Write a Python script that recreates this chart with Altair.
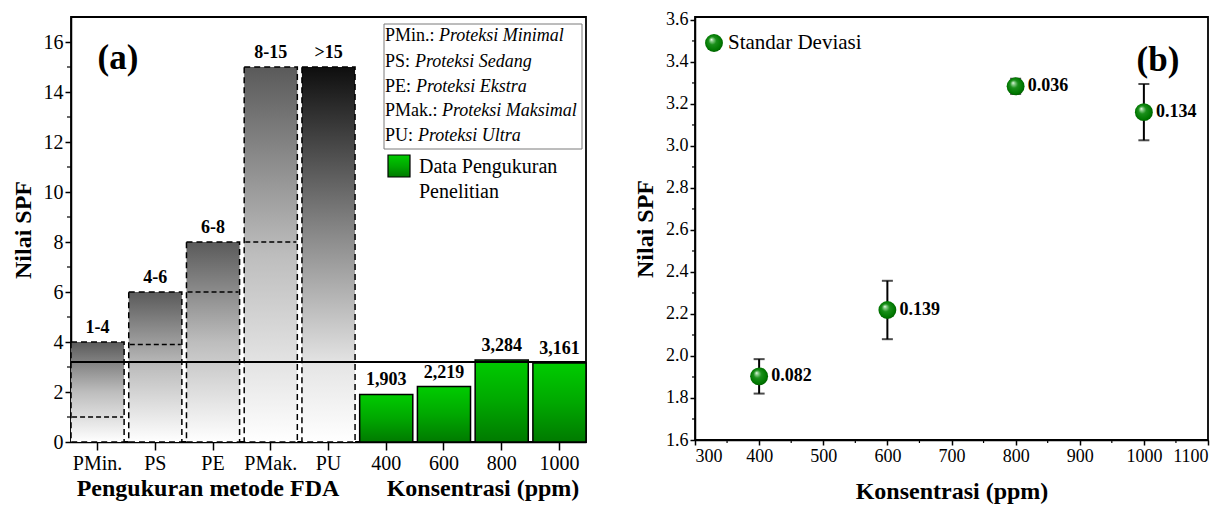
import altair as alt
import pandas as pd

FONT = "Liberation Serif"

# ---------------- data ----------------
fda_cats = ["PMin.", "PS", "PE", "PMak.", "PU"]
fda_upper = [4, 6, 8, 15, 15]
fda_lower = [1, 3.9, 6, 8]
fda_range_labels = ["1-4", "4-6", "6-8", "8-15", ">15"]
conc_cats = ["400", "600", "800", "1000"]
conc_values = [400, 600, 800, 1000]
spf_values = [1.903, 2.219, 3.284, 3.161]
spf_labels = ["1,903", "2,219", "3,284", "3,161"]
spf_sd = [0.082, 0.139, 0.036, 0.134]
sd_labels = ["0.082", "0.139", "0.036", "0.134"]
threshold = [3.2]
legend_abbr = ["PMin.:", "PS:", "PE:", "PMak.:", "PU:"]
legend_desc = ["Proteksi Minimal", "Proteksi Sedang", "Proteksi Ekstra",
               "Proteksi Maksimal", "Proteksi Ultra"]
legend_green = ["Data Pengukuran", "Penelitian"]
y_ticks_a = list(range(0, 17, 2))
y_minor_a = list(range(1, 17, 2))
x_ticks_b = [300, 400, 500, 600, 700, 800, 900, 1000, 1100]
x_minor_b = [350, 450, 550, 650, 750, 850, 950, 1050]
y_ticks_b = [1.6, 1.8, 2.0, 2.2, 2.4, 2.6, 2.8, 3.0, 3.2, 3.4, 3.6]
y_minor_b = [1.7, 1.9, 2.1, 2.3, 2.5, 2.7, 2.9, 3.1, 3.3, 3.5]
y_domain_b = [1.6, 3.614]

# ---------------- layout (pixels) ----------------
WA, HA = 515, 425
WB, HB = 513, 423
legend_rows_y = [19, 45, 70, 94, 119]
legend_abbr_x = 314
legend_desc_x = [368, 344, 345, 371, 347]

all_cats = fda_cats + conc_cats
one = alt.Data(values=[{}])

df_gray = pd.DataFrame({"cat": fda_cats[:4], "v": fda_upper[:4]})
df_pu = pd.DataFrame({"cat": fda_cats[4:], "v": fda_upper[4:]})
df_low = pd.DataFrame({"cat": fda_cats[:4], "v": fda_lower})
df_fda_lab = pd.DataFrame({"cat": fda_cats, "v": fda_upper, "lab": fda_range_labels})
df_green = pd.DataFrame({"cat": conc_cats, "v": spf_values, "lab": spf_labels})
df_thr = pd.DataFrame({"v": threshold})
df_minor_a = pd.DataFrame({"v": y_minor_a})

grad_gray = alt.LinearGradient(
    gradient="linear",
    stops=[alt.GradientStop(color="#5a5a5a", offset=0),
           alt.GradientStop(color="#bdbdbd", offset=0.5),
           alt.GradientStop(color="#ffffff", offset=1)],
    x1=0, x2=0, y1=0, y2=1)
grad_pu = alt.LinearGradient(
    gradient="linear",
    stops=[alt.GradientStop(color="#0e0e0e", offset=0),
           alt.GradientStop(color="#8a8a8a", offset=0.45),
           alt.GradientStop(color="#e6e6e6", offset=0.8),
           alt.GradientStop(color="#ffffff", offset=1)],
    x1=0, x2=0, y1=0, y2=1)
grad_green = alt.LinearGradient(
    gradient="linear",
    stops=[alt.GradientStop(color="#00cc00", offset=0),
           alt.GradientStop(color="#00a800", offset=0.5),
           alt.GradientStop(color="#007a00", offset=1)],
    x1=0, x2=0, y1=0, y2=1)

xa = alt.X("cat:N", sort=all_cats,
           scale=alt.Scale(domain=all_cats, paddingInner=0.08, paddingOuter=0.0),
           axis=alt.Axis(title=None, labelAngle=0, labelFontSize=20, tickSize=8,
                         labelPadding=3))
ya = alt.Y("v:Q", scale=alt.Scale(domain=[0, 17], nice=False),
           axis=alt.Axis(values=y_ticks_a, title="Nilai SPF", titleFontSize=24,
                         titleFontWeight="bold", titlePadding=8, labelFontSize=20,
                         tickSize=6, labelPadding=2, format="d"))
xs = alt.X("cat:N", sort=all_cats)
ys = alt.Y("v:Q")

gray_bars = alt.Chart(df_gray).mark_bar(
    color=grad_gray, stroke="black", strokeDash=[6, 4], strokeWidth=1.5
).encode(x=xa, y=ya)
pu_bar = alt.Chart(df_pu).mark_bar(
    color=grad_pu, stroke="black", strokeDash=[6, 4], strokeWidth=1.5
).encode(x=xs, y=ys)
green_bars = alt.Chart(df_green).mark_bar(
    color=grad_green, stroke="black", strokeWidth=1.5
).encode(x=xs, y=ys)
low_lines = alt.Chart(df_low).mark_rule(
    color="black", strokeDash=[5, 3], strokeWidth=1.6
).encode(x=alt.X("cat:N", sort=all_cats, bandPosition=0.02),
         x2=alt.X2("cat", bandPosition=0.98), y=ys)
thr_rule = alt.Chart(df_thr).mark_rule(color="black", strokeWidth=1.8).encode(y=ys)
fda_labels = alt.Chart(df_fda_lab).mark_text(
    fontWeight="bold", fontSize=18, baseline="bottom", dy=-5, font=FONT
).encode(x=xs, y=ys, text="lab:N")
green_labels = alt.Chart(df_green).mark_text(
    fontWeight="bold", fontSize=18, baseline="bottom", dy=-5, font=FONT
).encode(x=xs, y=ys, text="lab:N")
minor_a = alt.Chart(df_minor_a).mark_rule(color="black", strokeWidth=1.2).encode(
    y=ys, x=alt.value(-4), x2=alt.value(0))

leg_box = alt.Chart(one).mark_rect(fill="white", stroke="#7a7a7a", strokeWidth=1).encode(
    x=alt.value(313), x2=alt.value(511), y=alt.value(7), y2=alt.value(132))
leg_layers = [leg_box]
for i in range(len(legend_abbr)):
    leg_layers.append(alt.Chart(one).mark_text(
        align="left", baseline="middle", fontSize=18, font=FONT
    ).encode(x=alt.value(legend_abbr_x), y=alt.value(legend_rows_y[i]),
             text=alt.value(legend_abbr[i])))
    leg_layers.append(alt.Chart(one).mark_text(
        align="left", baseline="middle", fontSize=18, font=FONT, fontStyle="italic"
    ).encode(x=alt.value(legend_desc_x[i]), y=alt.value(legend_rows_y[i]),
             text=alt.value(legend_desc[i])))
leg_layers.append(alt.Chart(one).mark_rect(color=grad_green, stroke="black", strokeWidth=1.2).encode(
    x=alt.value(317), x2=alt.value(339), y=alt.value(138), y2=alt.value(160)))
for j, t in enumerate(legend_green):
    leg_layers.append(alt.Chart(one).mark_text(
        align="left", baseline="middle", fontSize=20, font=FONT
    ).encode(x=alt.value(348), y=alt.value(150 + 25 * j), text=alt.value(t)))

tag_a = alt.Chart(one).mark_text(fontSize=35, fontWeight="bold", font=FONT,
                                 baseline="middle").encode(
    x=alt.value(47), y=alt.value(41), text=alt.value("(a)"))
title_a1 = alt.Chart(one).mark_text(fontSize=24, fontWeight="bold", font=FONT,
                                    baseline="middle").encode(
    x=alt.value(137), y=alt.value(HA + 47), text=alt.value("Pengukuran metode FDA"))
title_a2 = alt.Chart(one).mark_text(fontSize=24, fontWeight="bold", font=FONT,
                                    baseline="middle").encode(
    x=alt.value(412), y=alt.value(HA + 47), text=alt.value("Konsentrasi (ppm)"))

panel_a = alt.layer(
    gray_bars, pu_bar, green_bars, low_lines, thr_rule, fda_labels, green_labels,
    minor_a, *leg_layers, tag_a, title_a1, title_a2
).properties(width=WA, height=HA)

# ---------------- panel b ----------------
df_pts = pd.DataFrame({
    "conc": conc_values, "v": spf_values,
    "lo": [v - s for v, s in zip(spf_values, spf_sd)],
    "hi": [v + s for v, s in zip(spf_values, spf_sd)],
    "lab": sd_labels})
df_minor_bx = pd.DataFrame({"conc": x_minor_b})
df_minor_by = pd.DataFrame({"v": y_minor_b})

sphere = alt.RadialGradient(
    gradient="radial",
    stops=[alt.GradientStop(color="#f4fff4", offset=0),
           alt.GradientStop(color="#8ccf8c", offset=0.15),
           alt.GradientStop(color="#1a8f1a", offset=0.4),
           alt.GradientStop(color="#007800", offset=0.8),
           alt.GradientStop(color="#005400", offset=1)],
    x1=0.35, y1=0.3, r1=0, x2=0.5, y2=0.5, r2=0.55)

xb = alt.X("conc:Q", scale=alt.Scale(domain=[300, 1100], nice=False, zero=False),
           axis=alt.Axis(values=x_ticks_b, format="d", title="Konsentrasi (ppm)",
                         titleFontSize=24, titleFontWeight="bold", titlePadding=14,
                         labelFontSize=18, tickSize=5, labelPadding=2))
yb = alt.Y("lo:Q", scale=alt.Scale(domain=y_domain_b, nice=False, zero=False),
           axis=alt.Axis(values=y_ticks_b, format=".1f", title="Nilai SPF",
                         titleFontSize=24, titleFontWeight="bold", titlePadding=8,
                         labelFontSize=18, tickSize=5, labelPadding=2))
xbs = alt.X("conc:Q")

err = alt.Chart(df_pts).mark_rule(color="black", strokeWidth=2).encode(
    x=xb, y=yb, y2="hi")
cap_lo = alt.Chart(df_pts).mark_tick(orient="horizontal", size=11, thickness=2,
                                     color="black").encode(x=xbs, y=alt.Y("lo:Q"))
cap_hi = alt.Chart(df_pts).mark_tick(orient="horizontal", size=11, thickness=2,
                                     color="black").encode(x=xbs, y=alt.Y("hi:Q"))
pts = alt.Chart(df_pts).mark_circle(size=320, fill=sphere, opacity=1).encode(
    x=xbs, y=alt.Y("v:Q"))
pt_labels = alt.Chart(df_pts).mark_text(
    align="left", baseline="middle", dx=12, fontSize=18, fontWeight="bold", font=FONT
).encode(x=xbs, y=alt.Y("v:Q"), text="lab:N")
minor_bx = alt.Chart(df_minor_bx).mark_rule(color="black", strokeWidth=1.2).encode(
    x=xbs, y=alt.value(HB), y2=alt.value(HB + 3))
minor_by = alt.Chart(df_minor_by).mark_rule(color="black", strokeWidth=1.2).encode(
    y=alt.Y("v:Q"), x=alt.value(-3), x2=alt.value(0))
leg_pt = alt.Chart(one).mark_circle(size=320, fill=sphere, opacity=1).encode(
    x=alt.value(19), y=alt.value(26))
leg_txt = alt.Chart(one).mark_text(align="left", baseline="middle", fontSize=21,
                                   font=FONT).encode(
    x=alt.value(33), y=alt.value(26), text=alt.value("Standar Deviasi"))
tag_b = alt.Chart(one).mark_text(fontSize=35, fontWeight="bold", font=FONT,
                                 baseline="middle").encode(
    x=alt.value(463), y=alt.value(43), text=alt.value("(b)"))

panel_b = alt.layer(
    err, cap_lo, cap_hi, pts, pt_labels, minor_bx, minor_by, leg_pt, leg_txt, tag_b
).properties(width=WB, height=HB)

chart = alt.hconcat(panel_a, panel_b, spacing=44).properties(
    padding={"left": 2, "top": 2, "right": 0, "bottom": 0}
).configure(font=FONT).configure_view(
    stroke="black", strokeWidth=1.8
).configure_axis(
    domainColor="black", domainWidth=1.5, tickColor="black", tickWidth=1.5,
    labelColor="black", titleColor="black", grid=False, labelFont=FONT, titleFont=FONT
)

chart.save("out.html", embed_options={"renderer": "svg", "actions": False})
